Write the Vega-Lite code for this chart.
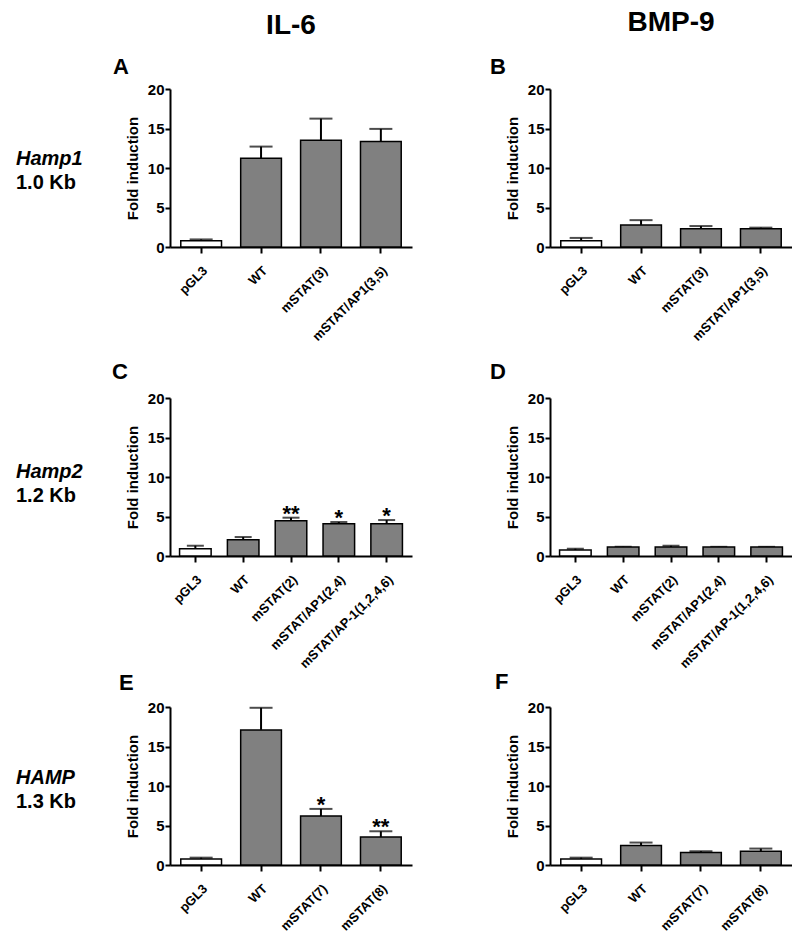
{
  "$schema": "https://vega.github.io/schema/vega-lite/v6.json",
  "padding": 0,
  "background": "white",
  "datasets": {
    "A": [
      {"construct": "pGL3", "value": 0.8, "upper": 0.96, "sig": ""},
      {"construct": "WT", "value": 11.24, "upper": 12.71, "sig": ""},
      {"construct": "mSTAT(3)", "value": 13.52, "upper": 16.25, "sig": ""},
      {"construct": "mSTAT/AP1(3,5)", "value": 13.34, "upper": 14.95, "sig": ""}
    ],
    "B": [
      {"construct": "pGL3", "value": 0.8, "upper": 1.15, "sig": ""},
      {"construct": "WT", "value": 2.8, "upper": 3.4, "sig": ""},
      {"construct": "mSTAT(3)", "value": 2.3, "upper": 2.65, "sig": ""},
      {"construct": "mSTAT/AP1(3,5)", "value": 2.3, "upper": 2.45, "sig": ""}
    ],
    "C": [
      {"construct": "pGL3", "value": 0.92, "upper": 1.3, "sig": ""},
      {"construct": "WT", "value": 2.06, "upper": 2.4, "sig": ""},
      {"construct": "mSTAT(2)", "value": 4.47, "upper": 4.85, "sig": "**"},
      {"construct": "mSTAT/AP1(2,4)", "value": 4.09, "upper": 4.3, "sig": "*"},
      {"construct": "mSTAT/AP-1(1,2,4,6)", "value": 4.09, "upper": 4.55, "sig": "*"}
    ],
    "D": [
      {"construct": "pGL3", "value": 0.76, "upper": 0.92, "sig": ""},
      {"construct": "WT", "value": 1.14, "upper": 1.17, "sig": ""},
      {"construct": "mSTAT(2)", "value": 1.14, "upper": 1.3, "sig": ""},
      {"construct": "mSTAT/AP1(2,4)", "value": 1.14, "upper": 1.16, "sig": ""},
      {"construct": "mSTAT/AP-1(1,2,4,6)", "value": 1.14, "upper": 1.16, "sig": ""}
    ],
    "E": [
      {"construct": "pGL3", "value": 0.76, "upper": 0.93, "sig": ""},
      {"construct": "WT", "value": 17.1, "upper": 19.9, "sig": ""},
      {"construct": "mSTAT(7)", "value": 6.2, "upper": 7.1, "sig": "*"},
      {"construct": "mSTAT(8)", "value": 3.55, "upper": 4.27, "sig": "**"}
    ],
    "F": [
      {"construct": "pGL3", "value": 0.76, "upper": 0.93, "sig": ""},
      {"construct": "WT", "value": 2.46, "upper": 2.84, "sig": ""},
      {"construct": "mSTAT(7)", "value": 1.57, "upper": 1.74, "sig": ""},
      {"construct": "mSTAT(8)", "value": 1.74, "upper": 2.08, "sig": ""}
    ]
  },
  "spacing": 6,
  "vconcat": [
    {
      "hconcat": [
        {"width": 32, "height": 50, "data": {"values": [{"h": ""}]}, "mark": {"type": "text"}, "encoding": {"text": {"field": "h"}}},
        {"width": 242, "height": 50, "data": {"values": [{"h": "IL-6"}]}, "mark": {"type": "text", "fontSize": 28, "fontWeight": "bold", "font": "Liberation Sans", "color": "black", "dy": 1}, "encoding": {"text": {"field": "h"}}},
        {"width": 242, "height": 50, "data": {"values": [{"h": "BMP-9"}]}, "mark": {"type": "text", "fontSize": 28, "fontWeight": "bold", "font": "Liberation Sans", "color": "black", "dy": -2}, "encoding": {"text": {"field": "h"}}}
      ],
      "spacing": 138,
      "bounds": "flush"
    },
    {
      "columns": 3,
      "spacing": {"row": 151, "column": 138},
      "bounds": "flush",
      "concat": [
        {"width": 32, "height": 158, "data": {"values": [{"gene": "Hamp1", "size": "1.0 Kb"}]},
         "layer": [
           {"mark": {"type": "text", "align": "left", "fontSize": 20, "fontWeight": "bold", "fontStyle": "italic", "font": "Liberation Sans", "color": "black", "dy": -9}, "encoding": {"text": {"field": "gene"}}},
           {"mark": {"type": "text", "align": "left", "fontSize": 20, "fontWeight": "bold", "font": "Liberation Sans", "color": "black", "dy": 15}, "encoding": {"text": {"field": "size"}}}
         ]},
        {"width": 242, "height": 158, "data": {"name": "A"},
         "title": {"text": "A", "anchor": "start", "frame": "group", "dx": -57, "offset": -14, "baseline": "alphabetic", "fontSize": 22, "fontWeight": "bold", "font": "Liberation Sans", "color": "black"},
         "encoding": {
           "x": {"field": "construct", "type": "nominal", "sort": null, "scale": {"paddingInner": 0.32, "paddingOuter": 0.18}, "axis": {"title": null}},
           "y": {"field": "value", "type": "quantitative", "scale": {"domain": [0, 20], "nice": false}, "axis": {"title": "Fold induction", "values": [0, 5, 10, 15, 20]}}
         },
         "layer": [
           {"mark": {"type": "rule", "color": "black", "strokeWidth": 2}, "encoding": {"y2": {"field": "upper"}}},
           {"mark": {"type": "tick", "color": "black", "size": 23, "thickness": 2}, "encoding": {"y": {"field": "upper", "type": "quantitative", "title": "Fold induction"}}},
           {"mark": {"type": "bar", "stroke": "black", "strokeWidth": 1.5}, "encoding": {"fill": {"condition": {"test": "datum.construct === 'pGL3'", "value": "white"}, "value": "#808080"}}},
           {"transform": [{"filter": "datum.sig !== ''"}], "mark": {"type": "text", "fontSize": 22, "fontWeight": "bold", "baseline": "alphabetic", "dy": 3, "color": "black", "font": "Liberation Sans"}, "encoding": {"y": {"field": "upper", "type": "quantitative", "title": "Fold induction"}, "text": {"field": "sig"}}}
         ]},
        {"width": 242, "height": 158, "data": {"name": "B"},
         "title": {"text": "B", "anchor": "start", "frame": "group", "dx": -60, "offset": -14, "baseline": "alphabetic", "fontSize": 22, "fontWeight": "bold", "font": "Liberation Sans", "color": "black"},
         "encoding": {
           "x": {"field": "construct", "type": "nominal", "sort": null, "scale": {"paddingInner": 0.32, "paddingOuter": 0.18}, "axis": {"title": null}},
           "y": {"field": "value", "type": "quantitative", "scale": {"domain": [0, 20], "nice": false}, "axis": {"title": "Fold induction", "values": [0, 5, 10, 15, 20]}}
         },
         "layer": [
           {"mark": {"type": "rule", "color": "black", "strokeWidth": 2}, "encoding": {"y2": {"field": "upper"}}},
           {"mark": {"type": "tick", "color": "black", "size": 23, "thickness": 2}, "encoding": {"y": {"field": "upper", "type": "quantitative", "title": "Fold induction"}}},
           {"mark": {"type": "bar", "stroke": "black", "strokeWidth": 1.5}, "encoding": {"fill": {"condition": {"test": "datum.construct === 'pGL3'", "value": "white"}, "value": "#808080"}}}
         ]},
        {"width": 32, "height": 158, "data": {"values": [{"gene": "Hamp2", "size": "1.2 Kb"}]},
         "layer": [
           {"mark": {"type": "text", "align": "left", "fontSize": 20, "fontWeight": "bold", "fontStyle": "italic", "font": "Liberation Sans", "color": "black", "dy": -5}, "encoding": {"text": {"field": "gene"}}},
           {"mark": {"type": "text", "align": "left", "fontSize": 20, "fontWeight": "bold", "font": "Liberation Sans", "color": "black", "dy": 19}, "encoding": {"text": {"field": "size"}}}
         ]},
        {"width": 242, "height": 158, "data": {"name": "C"},
         "title": {"text": "C", "anchor": "start", "frame": "group", "dx": -58, "offset": -10, "baseline": "alphabetic", "fontSize": 22, "fontWeight": "bold", "font": "Liberation Sans", "color": "black"},
         "encoding": {
           "x": {"field": "construct", "type": "nominal", "sort": null, "scale": {"paddingInner": 0.34, "paddingOuter": 0.2}, "axis": {"title": null}},
           "y": {"field": "value", "type": "quantitative", "scale": {"domain": [0, 20], "nice": false}, "axis": {"title": "Fold induction", "values": [0, 5, 10, 15, 20]}}
         },
         "layer": [
           {"mark": {"type": "rule", "color": "black", "strokeWidth": 2}, "encoding": {"y2": {"field": "upper"}}},
           {"mark": {"type": "tick", "color": "black", "size": 17, "thickness": 2}, "encoding": {"y": {"field": "upper", "type": "quantitative", "title": "Fold induction"}}},
           {"mark": {"type": "bar", "stroke": "black", "strokeWidth": 1.5}, "encoding": {"fill": {"condition": {"test": "datum.construct === 'pGL3'", "value": "white"}, "value": "#808080"}}},
           {"transform": [{"filter": "datum.sig !== ''"}], "mark": {"type": "text", "fontSize": 22, "fontWeight": "bold", "baseline": "alphabetic", "dy": 3, "color": "black", "font": "Liberation Sans"}, "encoding": {"y": {"field": "upper", "type": "quantitative", "title": "Fold induction"}, "text": {"field": "sig"}}}
         ]},
        {"width": 242, "height": 158, "data": {"name": "D"},
         "title": {"text": "D", "anchor": "start", "frame": "group", "dx": -60, "offset": -10, "baseline": "alphabetic", "fontSize": 22, "fontWeight": "bold", "font": "Liberation Sans", "color": "black"},
         "encoding": {
           "x": {"field": "construct", "type": "nominal", "sort": null, "scale": {"paddingInner": 0.34, "paddingOuter": 0.2}, "axis": {"title": null}},
           "y": {"field": "value", "type": "quantitative", "scale": {"domain": [0, 20], "nice": false}, "axis": {"title": "Fold induction", "values": [0, 5, 10, 15, 20]}}
         },
         "layer": [
           {"mark": {"type": "rule", "color": "black", "strokeWidth": 2}, "encoding": {"y2": {"field": "upper"}}},
           {"mark": {"type": "tick", "color": "black", "size": 17, "thickness": 2}, "encoding": {"y": {"field": "upper", "type": "quantitative", "title": "Fold induction"}}},
           {"mark": {"type": "bar", "stroke": "black", "strokeWidth": 1.5}, "encoding": {"fill": {"condition": {"test": "datum.construct === 'pGL3'", "value": "white"}, "value": "#808080"}}}
         ]},
        {"width": 32, "height": 158, "data": {"values": [{"gene": "HAMP", "size": "1.3 Kb"}]},
         "layer": [
           {"mark": {"type": "text", "align": "left", "fontSize": 20, "fontWeight": "bold", "fontStyle": "italic", "font": "Liberation Sans", "color": "black", "dy": -8}, "encoding": {"text": {"field": "gene"}}},
           {"mark": {"type": "text", "align": "left", "fontSize": 20, "fontWeight": "bold", "font": "Liberation Sans", "color": "black", "dy": 16}, "encoding": {"text": {"field": "size"}}}
         ]},
        {"width": 242, "height": 158, "data": {"name": "E"},
         "title": {"text": "E", "anchor": "start", "frame": "group", "dx": -51, "offset": -12, "baseline": "alphabetic", "fontSize": 22, "fontWeight": "bold", "font": "Liberation Sans", "color": "black"},
         "encoding": {
           "x": {"field": "construct", "type": "nominal", "sort": null, "scale": {"paddingInner": 0.32, "paddingOuter": 0.18}, "axis": {"title": null}},
           "y": {"field": "value", "type": "quantitative", "scale": {"domain": [0, 20], "nice": false}, "axis": {"title": "Fold induction", "values": [0, 5, 10, 15, 20]}}
         },
         "layer": [
           {"mark": {"type": "rule", "color": "black", "strokeWidth": 2}, "encoding": {"y2": {"field": "upper"}}},
           {"mark": {"type": "tick", "color": "black", "size": 23, "thickness": 2}, "encoding": {"y": {"field": "upper", "type": "quantitative", "title": "Fold induction"}}},
           {"mark": {"type": "bar", "stroke": "black", "strokeWidth": 1.5}, "encoding": {"fill": {"condition": {"test": "datum.construct === 'pGL3'", "value": "white"}, "value": "#808080"}}},
           {"transform": [{"filter": "datum.sig !== ''"}], "mark": {"type": "text", "fontSize": 22, "fontWeight": "bold", "baseline": "alphabetic", "dy": 3, "color": "black", "font": "Liberation Sans"}, "encoding": {"y": {"field": "upper", "type": "quantitative", "title": "Fold induction"}, "text": {"field": "sig"}}}
         ]},
        {"width": 242, "height": 158, "data": {"name": "F"},
         "title": {"text": "F", "anchor": "start", "frame": "group", "dx": -55, "offset": -11, "baseline": "alphabetic", "fontSize": 22, "fontWeight": "bold", "font": "Liberation Sans", "color": "black"},
         "encoding": {
           "x": {"field": "construct", "type": "nominal", "sort": null, "scale": {"paddingInner": 0.32, "paddingOuter": 0.18}, "axis": {"title": null}},
           "y": {"field": "value", "type": "quantitative", "scale": {"domain": [0, 20], "nice": false}, "axis": {"title": "Fold induction", "values": [0, 5, 10, 15, 20]}}
         },
         "layer": [
           {"mark": {"type": "rule", "color": "black", "strokeWidth": 2}, "encoding": {"y2": {"field": "upper"}}},
           {"mark": {"type": "tick", "color": "black", "size": 23, "thickness": 2}, "encoding": {"y": {"field": "upper", "type": "quantitative", "title": "Fold induction"}}},
           {"mark": {"type": "bar", "stroke": "black", "strokeWidth": 1.5}, "encoding": {"fill": {"condition": {"test": "datum.construct === 'pGL3'", "value": "white"}, "value": "#808080"}}}
         ]}
      ]
    }
  ],
  "config": {
    "view": {"stroke": null},
    "font": "Liberation Sans",
    "axis": {"domainColor": "black", "domainWidth": 2, "tickColor": "black", "tickWidth": 2, "labelColor": "black", "titleColor": "black", "labelFontWeight": "bold", "titleFontWeight": "bold", "grid": false, "labelFont": "Liberation Sans", "titleFont": "Liberation Sans"},
    "axisY": {"tickSize": 5, "labelPadding": 1, "labelFontSize": 15, "titleFontSize": 15, "titlePadding": 7},
    "axisX": {"tickSize": 6, "labelAngle": -45, "labelAlign": "right", "labelBaseline": "top", "labelPadding": 11, "labelFontSize": 13, "labelFont": "Liberation Sans"}
  }
}
